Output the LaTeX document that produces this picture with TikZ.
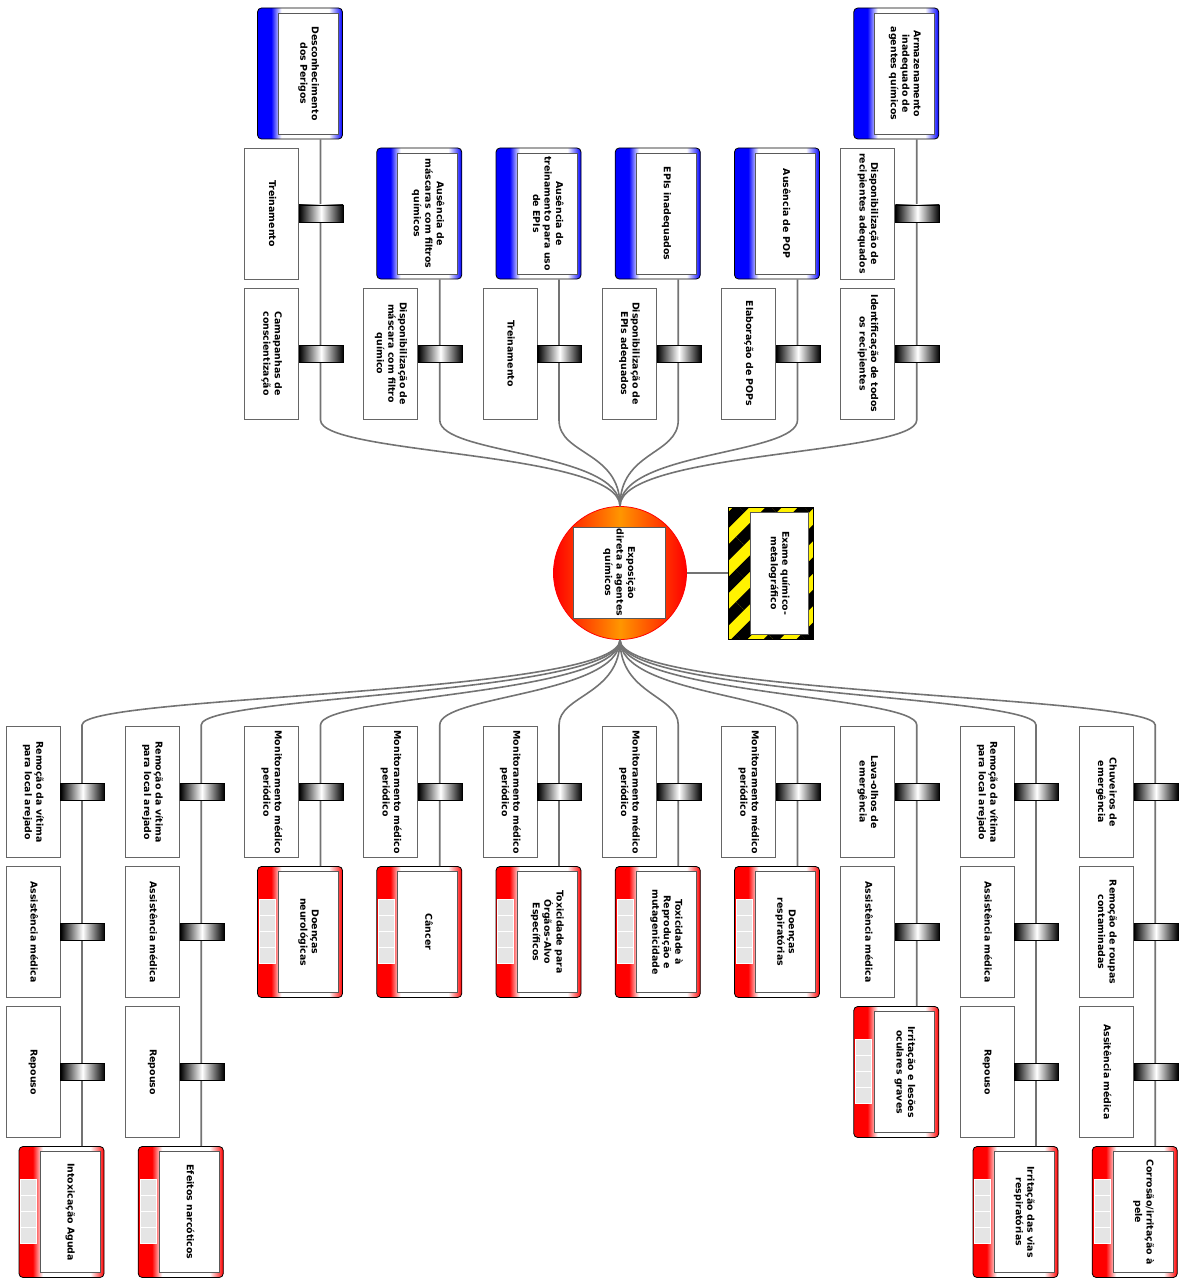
\documentclass[tikz,border=0pt]{standalone}
\usepackage{fontspec}
\usepackage{graphicx}
\usepackage{xcolor}
\setmainfont{DejaVu Sans}
\usetikzlibrary{positioning,patterns.meta}
\newcommand{\vtext}[1]{\rotatebox{-90}{\begin{tabular}{@{}c@{}}#1\end{tabular}}}
\newcommand{\colx}[1]{(82+119.25*(#1-1))}
\definecolor{amber}{RGB}{255,150,0}
\pgfdeclarehorizontalshading{threatfill}{100bp}{color(0bp)=(blue); color(33bp)=(blue); color(39bp)=(white); color(67bp)=(white); color(75bp)=(blue); color(100bp)=(blue)}
\pgfdeclarehorizontalshading{conseqfill}{100bp}{color(0bp)=(red); color(33bp)=(red); color(39bp)=(white); color(67bp)=(white); color(75bp)=(red); color(100bp)=(red)}

\begin{document}
\begin{tikzpicture}[x=1pt,y=-1pt,%
  lbl/.style={font=\fontsize{9.4}{11.5}\selectfont\bfseries},%
  wire/.style={draw=black!55,line width=1.6pt},%
  barrier/.style={lbl,draw=black!60,fill=white,line width=0.8pt,minimum width=54pt,minimum height=131pt,inner sep=0pt},%
  lock/.style={draw=black,line width=0.6pt,left color=black,right color=black,middle color=white,minimum width=44pt,minimum height=17pt,inner sep=0pt},%
  threat/.style={draw=black,line width=0.8pt,rounded corners=4pt,shading=threatfill,minimum width=85pt,minimum height=131pt,inner sep=0pt},%
  conseq/.style={threat,shading=conseqfill},%
  inbox/.style={lbl,draw=black!65,line width=0.8pt,fill=white,minimum width=60pt,minimum height=121pt,inner sep=0pt},%
  cell/.style={fill=black!10,draw=white,line width=0.7pt}%
  ]
  \useasboundingbox (0,0) rectangle (1188,1281);
%
  \node[threat] (t1) at ({\colx{3}-20.5},73.5) {};
  \node[inbox] (t1l) at ([xshift=8.5pt]t1.center) {\vtext{Desconhecimento\\dos Perigos}};
  \node[threat] (t2) at ({\colx{4}-20.5},213.5) {};
  \node[inbox] (t2l) at ([xshift=8.5pt]t2.center) {\vtext{Ausência de\\máscaras com filtros\\químicos}};
  \node[threat] (t3) at ({\colx{5}-20.5},213.5) {};
  \node[inbox] (t3l) at ([xshift=8.5pt]t3.center) {\vtext{Ausência de\\treinamento para uso\\de EPIs}};
  \node[threat] (t4) at ({\colx{6}-20.5},213.5) {};
  \node[inbox] (t4l) at ([xshift=8.5pt]t4.center) {\vtext{EPIs inadequados}};
  \node[threat] (t5) at ({\colx{7}-20.5},213.5) {};
  \node[inbox] (t5l) at ([xshift=8.5pt]t5.center) {\vtext{Ausência de POP}};
  \node[threat] (t6) at ({\colx{8}-20.5},73.5) {};
  \node[inbox] (t6l) at ([xshift=8.5pt]t6.center) {\vtext{Armazenamento\\inadequado de\\agentes químicos}};
%
  \node[barrier] (b1a) at ({\colx{3}-49},213.5) {\vtext{Treinamento}};
  \node[barrier] (b1b) at ({\colx{3}-49},353.5) {\vtext{Camapanhas de\\conscientização}};
  \node[barrier] (b2)  at ({\colx{4}-49},353.5) {\vtext{Disponibilização de\\máscara com filtro\\químico}};
  \node[barrier] (b3)  at ({\colx{5}-49},353.5) {\vtext{Treinamento}};
  \node[barrier] (b4)  at ({\colx{6}-49},353.5) {\vtext{Disponibilização de\\EPIs adequados}};
  \node[barrier] (b5)  at ({\colx{7}-49},353.5) {\vtext{Elaboração de POPs}};
  \node[barrier] (b6a) at ({\colx{8}-49},213.5) {\vtext{Disponibilização de\\recipientes adequados}};
  \node[barrier] (b6b) at ({\colx{8}-49},353.5) {\vtext{Identificação de todos\\os recipientes}};
%
  \node[circle,draw=red,line width=0.8pt,left color=red,right color=red,middle color=amber,minimum size=133pt,inner sep=0pt] (c) at (620,573) {};
  \node[inbox,minimum width=92pt,minimum height=91pt] (cl) at (619,572.5) {\vtext{Exposição\\direta a agentes\\químicos}};
  \node[draw=black,line width=0.8pt,fill=yellow,postaction={pattern={Lines[angle=45,distance=23pt,line width=11.5pt]},pattern color=black},minimum width=85pt,minimum height=132pt,inner sep=0pt] (hz) at (770.5,573) {};
  \node[inbox,minimum width=58pt,minimum height=122pt] (hzl) at (779,573) {\vtext{Exame químico-\\metalográfico}};
%
  \node[barrier] (m1a) at ({\colx{1}-49},792)  {\vtext{Remoção da vítima\\para local arejado}};
  \node[barrier] (m1b) at ({\colx{1}-49},932)  {\vtext{Assistência médica}};
  \node[barrier] (m1c) at ({\colx{1}-49},1072) {\vtext{Repouso}};
  \node[barrier] (m2a) at ({\colx{2}-49},792)  {\vtext{Remoção da vítima\\para local arejado}};
  \node[barrier] (m2b) at ({\colx{2}-49},932)  {\vtext{Assistência médica}};
  \node[barrier] (m2c) at ({\colx{2}-49},1072) {\vtext{Repouso}};
  \node[barrier] (m3)  at ({\colx{3}-49},792)  {\vtext{Monitoramento médico\\periódico}};
  \node[barrier] (m4)  at ({\colx{4}-49},792)  {\vtext{Monitoramento médico\\periódico}};
  \node[barrier] (m5)  at ({\colx{5}-49},792)  {\vtext{Monitoramento médico\\periódico}};
  \node[barrier] (m6)  at ({\colx{6}-49},792)  {\vtext{Monitoramento médico\\periódico}};
  \node[barrier] (m7)  at ({\colx{7}-49},792)  {\vtext{Monitoramento médico\\periódico}};
  \node[barrier] (m8a) at ({\colx{8}-49},792)  {\vtext{Lava-olhos de\\emergência}};
  \node[barrier] (m8b) at ({\colx{8}-49},932)  {\vtext{Assistência médica}};
  \node[barrier] (m9a) at ({\colx{9}-49},792)  {\vtext{Remoção da vítima\\para local arejado}};
  \node[barrier] (m9b) at ({\colx{9}-49},932)  {\vtext{Assistência médica}};
  \node[barrier] (m9c) at ({\colx{9}-49},1072) {\vtext{Repouso}};
  \node[barrier] (m10a) at ({\colx{10}-49},792)  {\vtext{Chuveiros de\\emergência}};
  \node[barrier] (m10b) at ({\colx{10}-49},932)  {\vtext{Remoção de roupas\\contaminadas}};
  \node[barrier] (m10c) at ({\colx{10}-49},1072) {\vtext{Assitência médica}};
%
  \node[conseq] (k1)  at ({\colx{1}-20.5},1212) {};
  \node[inbox] (k1l)  at ([xshift=8.5pt]k1.center)  {\vtext{Intoxicação Aguda}};
  \node[conseq] (k2)  at ({\colx{2}-20.5},1212) {};
  \node[inbox] (k2l)  at ([xshift=8.5pt]k2.center)  {\vtext{Efeitos narcóticos}};
  \node[conseq] (k3)  at ({\colx{3}-20.5},932) {};
  \node[inbox] (k3l)  at ([xshift=8.5pt]k3.center)  {\vtext{Doenças\\neurológicas}};
  \node[conseq] (k4)  at ({\colx{4}-20.5},932) {};
  \node[inbox] (k4l)  at ([xshift=8.5pt]k4.center)  {\vtext{Câncer}};
  \node[conseq] (k5)  at ({\colx{5}-20.5},932) {};
  \node[inbox] (k5l)  at ([xshift=8.5pt]k5.center)  {\vtext{Toxicidade para\\Órgãos-Alvo\\Específicos}};
  \node[conseq] (k6)  at ({\colx{6}-20.5},932) {};
  \node[inbox] (k6l)  at ([xshift=8.5pt]k6.center)  {\vtext{Toxicidade à\\Reprodução e\\mutagenicidade}};
  \node[conseq] (k7)  at ({\colx{7}-20.5},932) {};
  \node[inbox] (k7l)  at ([xshift=8.5pt]k7.center)  {\vtext{Doenças\\respiratórias}};
  \node[conseq] (k8)  at ({\colx{8}-20.5},1072) {};
  \node[inbox] (k8l)  at ([xshift=8.5pt]k8.center)  {\vtext{Irritação e lesões\\oculares graves}};
  \node[conseq] (k9)  at ({\colx{9}-20.5},1212) {};
  \node[inbox] (k9l)  at ([xshift=8.5pt]k9.center)  {\vtext{Irritação das vias\\respiratórias}};
  \node[conseq] (k10) at ({\colx{10}-20.5},1212) {};
  \node[inbox] (k10l) at ([xshift=8.5pt]k10.center) {\vtext{Corrosão/irritação à\\pele}};
  \foreach \k in {1,...,10}
    \foreach \r in {0,...,3}
      \draw[cell] ([shift={(2,33+16*\r)}]k\k.north west) rectangle ++(16,16);
%
  \foreach \i in {1,...,6} {
    \coordinate (u\i) at ({\colx{\i+2}},420);
    \draw[wire] (t\i.south -| u\i) -- (u\i) .. controls +(0,35) and +(0,-55) .. (c.north);
  }
  \foreach \j in {1,...,10} {
    \coordinate (x\j) at ({\colx{\j}},725);
    \draw[wire] (c.south) .. controls +(0,55) and +(0,-30) .. (x\j) -- (x\j |- k\j.north);
  }
  \draw[wire] (c.east) -- (hz.west);
%
  \foreach \n in {b1a,b1b,b2,b3,b4,b5,b6a,b6b,m1a,m1b,m1c,m2a,m2b,m2c,m3,m4,m5,m6,m7,m8a,m8b,m9a,m9b,m9c,m10a,m10b,m10c}
    \node[lock,right=0pt of \n] (l\n) {};
%
\end{tikzpicture}
\end{document}
